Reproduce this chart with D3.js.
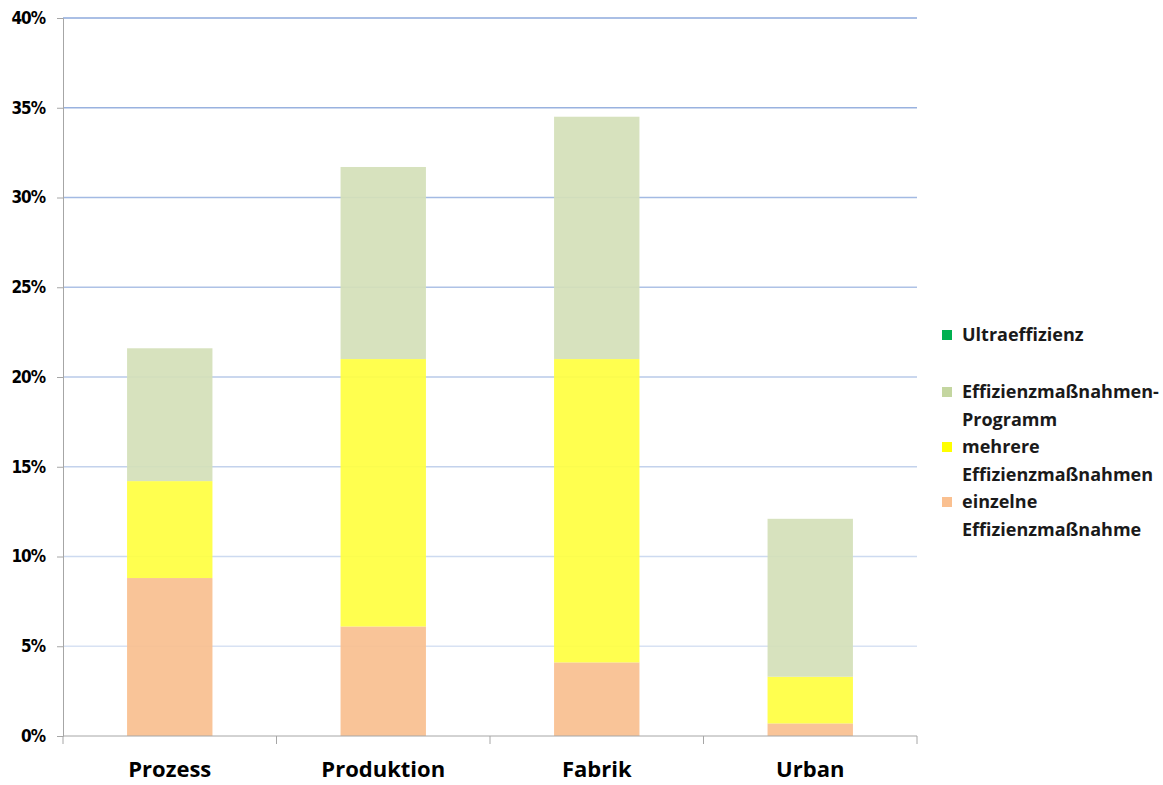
<!DOCTYPE html>
<html lang="de">
<head>
<meta charset="UTF-8">
<script src="https://d3js.org/d3.v7.min.js"></script>
<title>Effizienz</title>
<style>
  body { margin: 0; background: #fff; }
  text { font-family: "Open Sans", "Lato", Arial, sans-serif; }
</style>
</head>
<body>
<svg id="svg1" width="1163" height="785"></svg>
<script>
const categories = ["Prozess", "Produktion", "Fabrik", "Urban"];
const einzelne = [8.8, 6.1, 4.1, 0.7];
const mehrere = [5.4, 14.9, 16.9, 2.6];
const programm = [7.4, 10.7, 13.5, 8.8];
const ultra = [0, 0, 0, 0];
const yTicks = [0, 5, 10, 15, 20, 25, 30, 35, 40];

const seriesNames = ["einzelne Effizienzmaßnahme", "mehrere Effizienzmaßnahmen", "Effizienzmaßnahmen-Programm", "Ultraeffizienz"];
const seriesVals = [einzelne, mehrere, programm, ultra];
const barColors = ["#f8bf8f", "#ffff40", "#d4e0b9", "#00b050"];
const legendColors = ["#fac090", "#ffff00", "#c4d6a0", "#00b050"];

const svg1 = d3.select("#svg1");
const margin = {left: 63, right: 246, top: 18, bottom: 49};
const width = 1163, height = 785;
const x = d3.scaleBand().domain(categories).range([margin.left, width - margin.right]).paddingInner(0.6).paddingOuter(0.3);
const xb = d3.scaleBand().domain(categories).range([margin.left, width - margin.right]);
const y = d3.scaleLinear().domain([0, 40]).range([height - margin.bottom, margin.top]);

// gridlines, fading toward bottom
svg1.append("g").selectAll("line").data(yTicks.filter(d => d > 0)).join("line")
  .attr("x1", margin.left).attr("x2", width - margin.right)
  .attr("y1", d => y(d)).attr("y2", d => y(d))
  .attr("stroke", "#8eaadc").attr("stroke-width", 1.5)
  .attr("stroke-opacity", d => 0.25 + 0.75 * d / 40);

// stacked bars
const table = categories.map((c, i) => {
  const row = {cat: c};
  seriesNames.forEach((s, k) => row[s] = seriesVals[k][i]);
  return row;
});
const stack = d3.stack().keys(seriesNames)(table);
svg1.append("g").selectAll("g").data(stack).join("g")
  .attr("fill", (d, i) => barColors[i]).attr("fill-opacity", 0.92)
  .selectAll("rect").data(d => d).join("rect")
  .attr("x", d => x(d.data.cat)).attr("width", x.bandwidth())
  .attr("y", d => y(d[1])).attr("height", d => y(d[0]) - y(d[1]));

// y axis
const yAxis = svg1.append("g").attr("transform", `translate(${margin.left},0)`)
  .call(d3.axisLeft(y).tickValues(yTicks).tickFormat(d => d + "%").tickSize(6).tickPadding(12));
yAxis.select(".domain").attr("stroke", "#a6a6a6");
yAxis.selectAll(".tick line").attr("stroke", "#a6a6a6");
yAxis.selectAll(".tick text").attr("font-size", 17).attr("font-weight", "bold")
  .attr("fill", "#000").style("font-family", "'DejaVu Sans Condensed', 'DejaVu Sans', sans-serif")
  .attr("letter-spacing", "-1");

// x axis
const xAxis = svg1.append("g").attr("transform", `translate(0,${y(0)})`);
xAxis.append("line").attr("x1", margin.left).attr("x2", width - margin.right)
  .attr("stroke", "#a6a6a6");
const bounds = categories.map(c => xb(c)).concat([width - margin.right]);
xAxis.selectAll(".tk").data(bounds).join("line").attr("class", "tk")
  .attr("x1", d => d).attr("x2", d => d).attr("y1", 0).attr("y2", 8)
  .attr("stroke", "#a6a6a6");
xAxis.selectAll(".lab").data(categories).join("text").attr("class", "lab")
  .attr("x", d => xb(d) + xb.bandwidth() / 2).attr("y", 41)
  .attr("text-anchor", "middle").attr("font-size", 22).attr("font-weight", "bold")
  .attr("fill", "#000").text(d => d);

// legend
const legendItems = [
  {lines: ["Ultraeffizienz"], color: legendColors[3], y: 335},
  {lines: ["Effizienzmaßnahmen-", "Programm"], color: legendColors[2], y: 392},
  {lines: ["mehrere", "Effizienzmaßnahmen"], color: legendColors[1], y: 447},
  {lines: ["einzelne", "Effizienzmaßnahme"], color: legendColors[0], y: 502}
];
const lg = svg1.append("g");
legendItems.forEach(it => {
  lg.append("rect").attr("x", 942).attr("y", it.y - 5).attr("width", 10).attr("height", 10)
    .attr("fill", it.color);
  const t = lg.append("text").attr("x", 962).attr("y", it.y + 6)
    .attr("font-size", 18).attr("font-weight", "bold").attr("fill", "#1a1a1a");
  it.lines.forEach((l, i) => t.append("tspan").attr("x", 962).attr("dy", i === 0 ? 0 : 27.5).text(l));
});
</script>
</body>
</html>
